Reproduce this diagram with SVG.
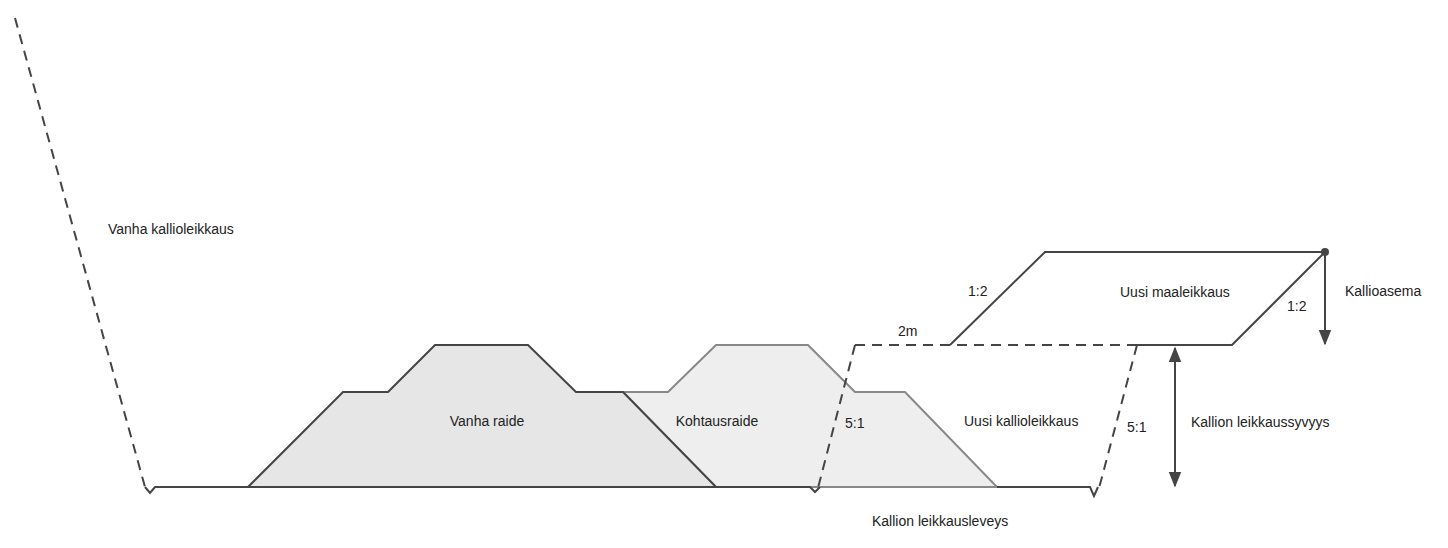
<svg xmlns="http://www.w3.org/2000/svg" width="1448" height="548" viewBox="0 0 1448 548">
<style>
text{font-family:"Liberation Sans",Arial,sans-serif;font-size:14px;fill:#222}
.s{fill:none;stroke:#444;stroke-width:2}
.d{fill:none;stroke:#444;stroke-width:2;stroke-dasharray:10 7}
</style>
<defs>
<marker id="a" viewBox="0 0 10 10" refX="9" refY="5" markerWidth="8" markerHeight="8" orient="auto-start-reverse"><path d="M0,1 L10,5 L0,9 Z" fill="#444"/></marker>
</defs>
<g id="kohtausraide"><path d="M623,392 L668,392 L716,345 L808,345 L855,392 L905,392 L997,487 L716,487 Z" fill="#eeeeee" stroke="#888" stroke-width="2"/><text x="717" y="426" text-anchor="middle">Kohtausraide</text></g>
<g id="vanha-raide"><path d="M248,487 L343,392 L388,392 L435,345 L528,345 L576,392 L623,392 L716,487 Z" fill="#e6e6e6" stroke="#444" stroke-width="2"/><text x="487" y="426" text-anchor="middle">Vanha raide</text></g>
<g id="connectors">
<path class="d" d="M15,18 L145,487"/>
<path class="s" d="M145,487 L150,493 L155,487 L248,487"/>
<path class="s" d="M716,487 L810,487 L815,492 L820,487"/>
<path class="s" d="M997,487 L1090,487 L1094,496 L1098,487"/>
<path class="d" d="M855,345 L818,488"/>
<path class="d" d="M1137,345 L1098,492"/>
<path class="d" d="M855,345 L1137,345"/>
<path class="s" d="M950,345 L1045,252 L1325,252 L1232,345 L1137,345"/>
<circle cx="1325" cy="252" r="4" fill="#444"/>
<path class="s" d="M1325,252 L1325,344" marker-end="url(#a)"/>
<path class="s" d="M1175,348 L1175,486" marker-start="url(#a)" marker-end="url(#a)"/>
</g>
<g id="labels">
<text x="108" y="234">Vanha kallioleikkaus</text>
<text x="968" y="296">1:2</text>
<text x="898" y="336">2m</text>
<text x="1120" y="297">Uusi maaleikkaus</text>
<text x="1287" y="311">1:2</text>
<text x="1345" y="296">Kallioasema</text>
<text x="845" y="428">5:1</text>
<text x="964" y="426">Uusi kallioleikkaus</text>
<text x="1127" y="432">5:1</text>
<text x="1191" y="427">Kallion leikkaussyvyys</text>
<text x="872" y="526">Kallion leikkausleveys</text>
</g>
</svg>
